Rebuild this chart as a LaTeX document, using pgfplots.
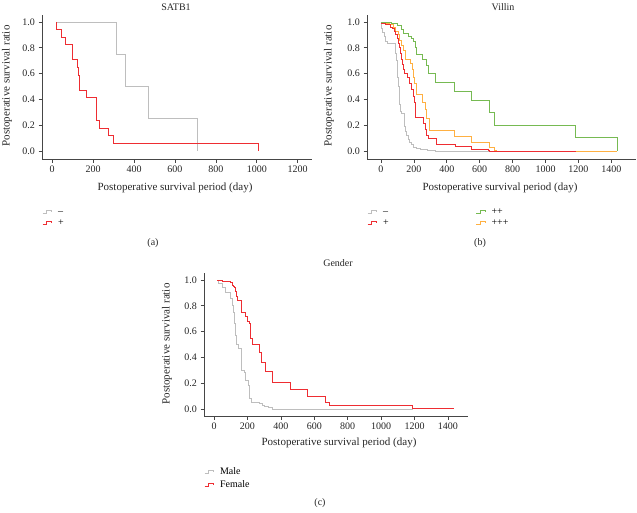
\documentclass[border=0pt]{standalone}
\usepackage{fontspec}
\setmainfont{Liberation Serif}
\usepackage{pgfplots}
\pgfplotsset{compat=1.18}
\definecolor{kmgray}{RGB}{190,190,190}
\definecolor{kmred}{RGB}{238,45,50}
\definecolor{kmgreen}{RGB}{118,186,82}
\definecolor{kmorange}{RGB}{255,176,66}
\definecolor{axcol}{RGB}{70,70,70}
\pgfplotsset{
 km/.style={const plot, line width=0.85pt},
 kmstyle/.style={
  scale only axis,
  axis x line*=bottom, axis y line*=left,
  axis line style={-, axcol, line width=0.6pt},
  tick style={axcol, line width=0.6pt},
  tick align=outside, major tick length=3.5pt,
  ytick={0,0.2,0.4,0.6,0.8,1.0},
  yticklabel style={/pgf/number format/fixed, /pgf/number format/fixed zerofill, /pgf/number format/precision=1},
  /pgf/number format/assume math mode=true,
  /pgf/number format/1000 sep={},
  tick label style={font=\fontsize{10}{12}\selectfont, text=black!85},
  legend image code/.code={\draw[##1] (0pt,-1.5pt) -- (4pt,-1.5pt) -- (4pt,1.5pt) -- (9pt,1.5pt) -- (9pt,0pt);},
  legend style={draw=none, fill=none, anchor=north west, font=\fontsize{10}{12}\selectfont, inner sep=0pt, nodes={inner sep=1pt, text height=7pt, text depth=2pt}, /tikz/every odd column/.append style={column sep=5pt}},
  legend cell align=left,
 }
}
\begin{document}
\begin{tikzpicture}[x=1pt,y=1pt]
\path[use as bounding box] (0,0) rectangle (637,512);
% ---------------- (a) SATB1
\begin{axis}[kmstyle, at={(42pt,353pt)}, anchor=south west, width=270pt, height=144pt,
  xmin=-50, xmax=1270, ymin=-0.062, ymax=1.054, xtick={0,200,400,600,800,1000,1200},
  legend style={at={(0,-0.33)}}]
\addlegendimage{kmgray, line width=0.85pt}\addlegendentry{–}
\addlegendimage{kmred, line width=0.85pt}\addlegendentry{+}
\addplot[kmgray, km, forget plot] coordinates {(25,1) (315,0.75) (356,0.5) (471,0.25) (711,0)};
\addplot[kmred, km, forget plot] coordinates {(21,1) (21,0.941) (47,0.882) (63,0.824) (97,0.765) (100,0.706) (121,0.647) (128,0.588) (132,0.471) (165,0.412) (215,0.235) (230,0.176) (276,0.118) (300,0.059) (1008,0)};
\end{axis}
% ---------------- (b) Villin
\begin{axis}[kmstyle, at={(367pt,353pt)}, anchor=south west, width=269pt, height=144pt,
  xmin=-85, xmax=1550, ymin=-0.062, ymax=1.054, xtick={0,200,400,600,800,1000,1200,1400},
  legend columns=2, legend style={at={(0,-0.33)}, /tikz/every even column/.append style={column sep=86pt}}]
\addlegendimage{kmgray, line width=0.85pt}\addlegendentry{–}
\addlegendimage{kmgreen, line width=0.85pt}\addlegendentry{++}
\addlegendimage{kmred, line width=0.85pt}\addlegendentry{+}
\addlegendimage{kmorange, line width=0.85pt}\addlegendentry{+++}
\addplot[kmgray, km, forget plot] coordinates {(0,0.98) (3,0.95) (10,0.92) (18,0.89) (30,0.85) (40,0.83) (85,0.80) (90,0.76) (95,0.70) (98,0.64) (102,0.57) (106,0.50) (110,0.43) (114,0.36) (118,0.31) (122,0.29) (140,0.24) (145,0.19) (150,0.15) (155,0.12) (165,0.09) (175,0.07) (185,0.05) (200,0.03) (215,0.02) (240,0.01) (280,0.005) (330,0) (700,0)};
\addplot[kmorange, km, forget plot] coordinates {(0,0.99) (50,0.98) (74,0.96) (90,0.93) (104,0.90) (114,0.86) (124,0.82) (134,0.78) (148,0.71) (178,0.68) (194,0.63) (200,0.57) (204,0.52) (214,0.44) (254,0.38) (270,0.32) (278,0.25) (294,0.16) (448,0.11) (550,0.065) (658,0.03) (690,0.005) (700,0) (1435,0)};
\addplot[kmgreen, km, forget plot] coordinates {(0,1.0) (64,0.99) (98,0.97) (124,0.94) (138,0.91) (164,0.89) (184,0.87) (199,0.85) (207,0.80) (213,0.75) (253,0.71) (277,0.66) (287,0.60) (329,0.53) (449,0.46) (548,0.39) (658,0.30) (688,0.20) (1181,0.105) (1435,0)};
\addplot[kmred, km, forget plot] coordinates {(0,0.99) (30,0.98) (55,0.96) (70,0.95) (80,0.93) (90,0.90) (98,0.87) (104,0.83) (110,0.80) (116,0.76) (122,0.71) (128,0.67) (134,0.63) (145,0.60) (160,0.57) (170,0.52) (185,0.48) (195,0.42) (202,0.38) (207,0.32) (212,0.26) (258,0.21) (270,0.17) (278,0.12) (286,0.10) (334,0.05) (454,0.035) (550,0.015) (654,0.005) (660,0) (1185,0)};
\end{axis}
% ---------------- (c) Gender
\begin{axis}[kmstyle, at={(204pt,96pt)}, anchor=south west, width=264pt, height=143pt,
  xmin=-60, xmax=1520, ymin=-0.054, ymax=1.054, xtick={0,200,400,600,800,1000,1200,1400},
  legend style={at={(0,-0.345)}, nodes={text height=8pt, text depth=3pt}}]
\addlegendimage{kmgray, line width=0.85pt}\addlegendentry{Male}
\addlegendimage{kmred, line width=0.85pt}\addlegendentry{Female}
\addplot[kmgray, km, forget plot] coordinates {(20,1.0) (29,0.97) (53,0.94) (69,0.90) (98,0.86) (108,0.80) (117,0.75) (123,0.66) (131,0.57) (135,0.50) (147,0.47) (161,0.40) (166,0.30) (180,0.28) (190,0.22) (206,0.18) (211,0.08) (225,0.05) (274,0.04) (288,0.03) (303,0.02) (323,0.01) (352,0.0) (1189,0)};
\addplot[kmred, km, forget plot] coordinates {(20,1.0) (49,0.99) (98,0.98) (108,0.96) (117,0.95) (123,0.94) (131,0.91) (137,0.87) (141,0.84) (161,0.80) (166,0.75) (186,0.72) (200,0.68) (210,0.66) (215,0.55) (231,0.50) (270,0.44) (284,0.36) (307,0.29) (347,0.21) (460,0.155) (558,0.10) (666,0.055) (691,0.025) (1189,0.008) (1436,0.008)};
\end{axis}
% ---------------- text
\begin{scope}[every node/.style={font=\fontsize{10}{12}\selectfont, text=black!85}]
\node at (176,505) {SATB1};
\node at (503,505) {Villin};
\node at (338,249) {Gender};
\node at (153,269) {(a)};
\node at (480,269) {(b)};
\node at (320,9) {(c)};
\end{scope}
\begin{scope}[every node/.style={font=\fontsize{11}{13}\selectfont, text=black!85}]
\node at (175,324) {Postoperative survival period (day)};
\node at (500,324) {Postoperative survival period (day)};
\node at (339,69) {Postoperative survival period (day)};
\node[rotate=90] at (7,426) {Postoperative survival ratio};
\node[rotate=90] at (329,426) {Postoperative survival ratio};
\node[rotate=90] at (167,168) {Postoperative survival ratio};
\end{scope}
\end{tikzpicture}
\end{document}
